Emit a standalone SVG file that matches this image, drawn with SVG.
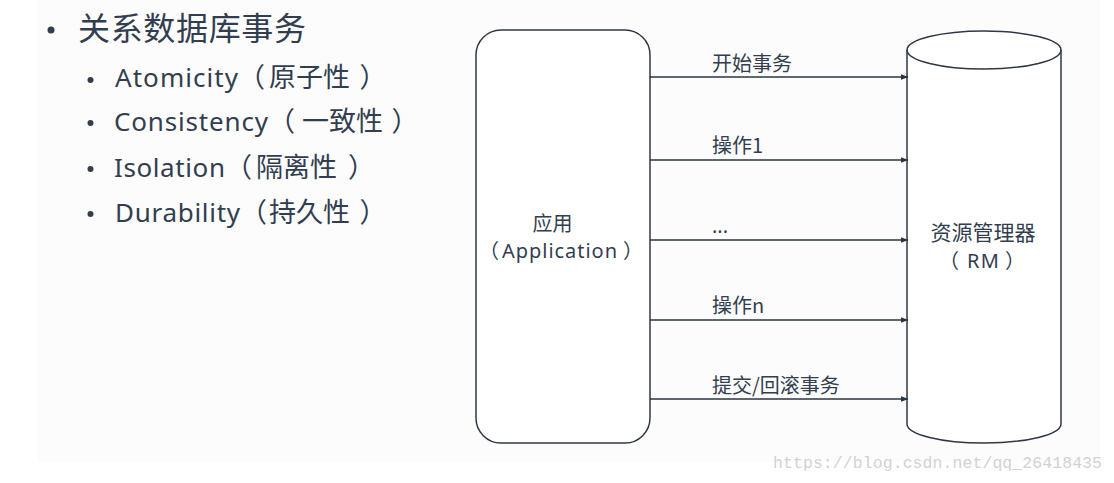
<svg xmlns="http://www.w3.org/2000/svg" width="1114" height="483" viewBox="0 0 1114 483">
<style>
  .t { font-family: "Noto Sans", "Noto Sans CJK SC", sans-serif; fill: #323e4f; }
  .cjk { font-family: "Noto Sans CJK SC", "Noto Sans", sans-serif; fill: #323e4f; }
  .shape { fill: #ffffff; stroke: #2f3844; stroke-width: 1.5; }
  .conn { stroke: #2b3442; stroke-width: 1.5; fill: none; marker-end: url(#arr); }
  .bul { fill: #323e4f; }
  .lat { font-family: "Noto Sans", sans-serif; }
</style>
<defs>
  <marker id="arr" markerWidth="8" markerHeight="6" refX="7.5" refY="3" orient="auto" markerUnits="userSpaceOnUse">
    <path d="M0,0 L8,3 L0,6 Z" fill="#2b3442"/>
  </marker>
</defs>
<rect x="0" y="0" width="1114" height="483" fill="#ffffff"/>
<rect x="37" y="0" width="1063" height="462" fill="#fcfcfc"/>

<g id="list">
  <circle class="bul" cx="51" cy="30" r="3.5"/>
  <text class="cjk" x="78" y="40" font-size="32" textLength="228">关系数据库事务</text>

  <circle class="bul" cx="90.5" cy="80" r="3"/>
  <text class="cjk" y="87" font-size="27"><tspan class="lat" x="115" font-size="26" textLength="123">Atomicity</tspan><tspan x="238">（</tspan><tspan x="269">原子性</tspan><tspan x="359.5">）</tspan></text>

  <circle class="bul" cx="90.5" cy="123" r="3"/>
  <text class="cjk" y="131" font-size="27"><tspan class="lat" x="114" font-size="26" textLength="154">Consistency</tspan><tspan x="268">（</tspan><tspan x="302">一致性</tspan><tspan x="391.5">）</tspan></text>

  <circle class="bul" cx="90.5" cy="169" r="3"/>
  <text class="cjk" y="177" font-size="27"><tspan class="lat" x="114" font-size="26" textLength="111">Isolation</tspan><tspan x="225">（</tspan><tspan x="256">隔离性</tspan><tspan x="348">）</tspan></text>

  <circle class="bul" cx="90.5" cy="214" r="3"/>
  <text class="cjk" y="222" font-size="27"><tspan class="lat" x="115" font-size="26" textLength="125">Durability</tspan><tspan x="240">（</tspan><tspan x="269">持久性</tspan><tspan x="359.5">）</tspan></text>
</g>

<g id="app">
  <rect class="shape" x="476" y="30" width="174" height="413" rx="25" ry="25"/>
  <text class="cjk" x="552.5" y="231" font-size="20" text-anchor="middle">应用</text>
  <text class="cjk" y="258" font-size="20"><tspan x="479">（</tspan><tspan class="lat" x="502" textLength="115">Application</tspan><tspan x="623">）</tspan></text>
</g>

<g id="rm">
  <path class="shape" d="M907,50 L907,424 A77,19 0 0 0 1061,424 L1061,50"/>
  <ellipse class="shape" cx="984" cy="50" rx="77" ry="19"/>
  <text class="cjk" x="983" y="240" font-size="21" text-anchor="middle">资源管理器</text>
  <text class="cjk" y="268" font-size="20"><tspan x="939">（</tspan><tspan class="lat" x="967" textLength="32">RM</tspan><tspan x="1005">）</tspan></text>
</g>

<g id="connectors">
  <line class="conn" x1="650" y1="77" x2="908" y2="77"/>
  <line class="conn" x1="650" y1="160" x2="908" y2="160"/>
  <line class="conn" x1="650" y1="240" x2="908" y2="240"/>
  <line class="conn" x1="650" y1="320" x2="908" y2="320"/>
  <line class="conn" x1="650" y1="399" x2="908" y2="399"/>
  <text class="cjk" x="712" y="71" font-size="20">开始事务</text>
  <text class="cjk" x="712" y="153" font-size="20">操作1</text>
  <text class="t" x="712" y="233" font-size="20">...</text>
  <text class="cjk" x="712" y="313" font-size="20">操作n</text>
  <text class="cjk" x="712" y="393" font-size="20">提交/回滚事务</text>
</g>

<text x="773" y="468" font-family="Liberation Mono, monospace" font-size="16.5" fill="#d2d2d2" textLength="329">https://blog.csdn.net/qq_26418435</text>
</svg>
